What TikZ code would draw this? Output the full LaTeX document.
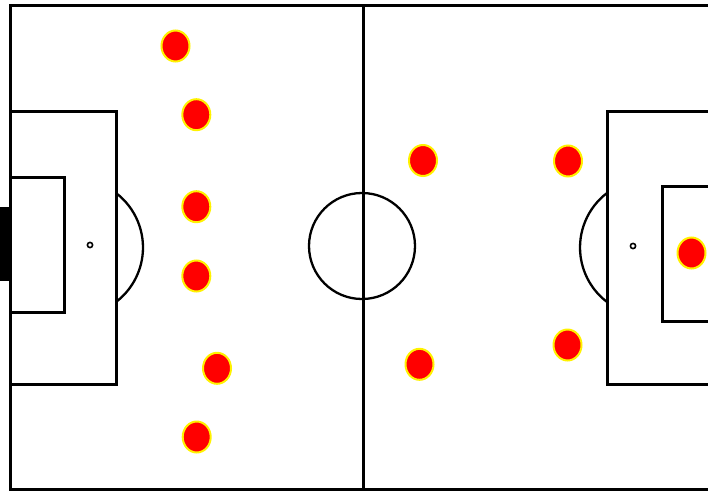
\documentclass[tikz,border=0pt]{standalone}
\usetikzlibrary{shapes.geometric}
\begin{document}
\begin{tikzpicture}[x=1pt,y=-1pt,
  pitchline/.style={draw=black,line width=3pt},
  thinline/.style={draw=black,line width=2.3pt},
  spot/.style={draw=black,line width=1.6pt},
  player/.style={ellipse,draw=yellow,fill=red,line width=2pt,minimum width=28pt,minimum height=31pt,inner sep=0pt}]
\useasboundingbox[fill=white] (0,0) rectangle (708,490);
% outer lines
\draw[pitchline] (712,5.5) -- (10,5.5) -- (10,489) -- (712,489);
\draw[pitchline] (363,5.5) -- (363,489);
% left goal
\fill[black] (0,207) rectangle (10,281);
% left penalty area and goal area
\draw[pitchline] (10,111) -- (116,111) -- (116,384) -- (10,384);
\draw[pitchline] (10,177.5) -- (64,177.5) -- (64,312) -- (10,312);
% right penalty area and goal area
\draw[pitchline] (712,111) -- (607,111) -- (607,384) -- (712,384);
\draw[pitchline] (712,186.5) -- (662,186.5) -- (662,321) -- (712,321);
% arcs
\draw[thinline] (116,193) arc[start angle=-52.7,end angle=52.7,radius=68.5];
\draw[thinline] (607,193) arc[start angle=232.7,end angle=127.3,radius=68.5];
% centre circle
\draw[thinline] (362,246) circle[radius=53];
% penalty spots
\draw[spot] (90,245) circle[radius=2.6];
\draw[spot] (633,246) circle[radius=2.6];
% players
\node[player] (p1) at (175.5,46) {};
\node[player] (p2) at (196.3,114.7) {};
\node[player] (p3) at (196.3,206.7) {};
\node[player] (p4) at (196.3,276) {};
\node[player] (p5) at (217,368.3) {};
\node[player] (p6) at (196.7,437) {};
\node[player] (p7) at (423,160.5) {};
\node[player] (p8) at (568,161) {};
\node[player] (p9) at (419.5,364.3) {};
\node[player] (p10) at (567.5,345) {};
\node[player] (p11) at (691.5,253) {};
\end{tikzpicture}
\end{document}
